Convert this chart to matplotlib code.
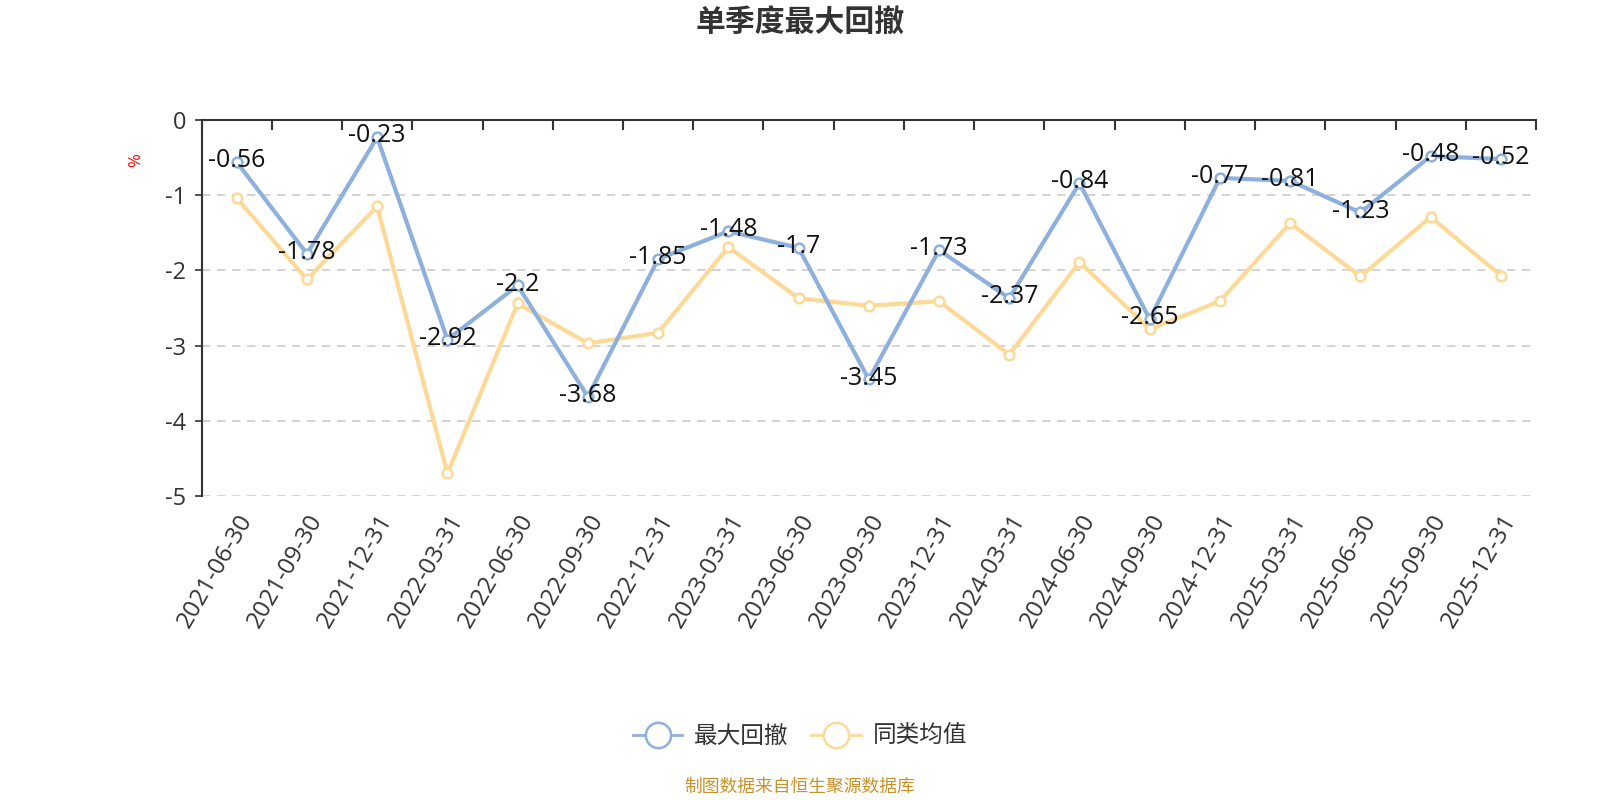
import numpy as np
import matplotlib
matplotlib.use('Agg')
import matplotlib.pyplot as plt

plt.rcParams['font.family'] = ['Open Sans', 'Noto Sans CJK SC', 'DejaVu Sans']
plt.rcParams['axes.unicode_minus'] = False

# quarter ends
dates = ['2021-06-30', '2021-09-30', '2021-12-31', '2022-03-31', '2022-06-30',
         '2022-09-30', '2022-12-31', '2023-03-31', '2023-06-30', '2023-09-30',
         '2023-12-31', '2024-03-31', '2024-06-30', '2024-09-30', '2024-12-31',
         '2025-03-31', '2025-06-30', '2025-09-30', '2025-12-31']
max_dd = [-0.56, -1.78, -0.23, -2.92, -2.2, -3.68, -1.85, -1.48, -1.7, -3.45,
          -1.73, -2.37, -0.84, -2.65, -0.77, -0.81, -1.23, -0.48, -0.52]
peer_avg = [-1.04, -2.12, -1.15, -4.70, -2.44, -2.97, -2.83, -1.69, -2.37, -2.47,
            -2.41, -3.12, -1.89, -2.78, -2.41, -1.37, -2.08, -1.29, -2.07]

blue = '#8eb0dc'
yellow = '#fdd998'
cjk = ['Noto Sans CJK SC', 'DejaVu Sans']

fig = plt.figure(figsize=(16, 8), dpi=100)
ax = fig.add_axes([0.126, 0.38, 0.834, 0.47])

x = np.arange(len(dates))
ax.plot(x, max_dd, color=blue, lw=3, marker='o', ms=7, mfc='white',
        mec=blue, mew=1.8, label='最大回撤', zorder=4)
ax.plot(x, peer_avg, color=yellow, lw=3, marker='o', ms=7, mfc='white',
        mec=yellow, mew=1.8, label='同类均值', zorder=3)

for xi, v in zip(x, max_dd):
    ax.annotate(f'{v:g}', (xi, v), xytext=(0, 1), textcoords='offset points',
                ha='center', va='center', fontsize=18, color='#111111', zorder=5)

ax.set_xlim(-0.5, len(dates) - 0.5)
ax.set_ylim(-5, 0)
ax.set_yticks([0, -1, -2, -3, -4, -5])
ax.set_yticklabels(['0', '-1', '-2', '-3', '-4', '-5'], fontsize=17, color='#333333')
ax.yaxis.grid(True, ls=(0, (5, 4)), color='#cccccc', lw=1.2)
ax.set_axisbelow(True)

ax.set_xticks(x)
ax.set_xticklabels(dates, rotation=60, ha='right', rotation_mode='anchor',
                   fontsize=17.5, color='#333333')
ax.set_xticks(np.arange(-0.5, len(dates)), minor=True)
ax.tick_params(axis='x', which='major', length=0, pad=10)
ax.tick_params(axis='x', which='minor', bottom=False, top=True, direction='in',
               length=7, width=1.5, color='#333333')
ax.tick_params(axis='y', length=5, width=1.2, color='#333333', pad=6)

for s in ['right', 'bottom']:
    ax.spines[s].set_visible(False)
ax.spines['top'].set_color('#333333')
ax.spines['top'].set_linewidth(1.5)
ax.spines['left'].set_color('#333333')
ax.spines['left'].set_linewidth(1.5)

fig.text(0.085, 0.80, '%', color='red', fontsize=12, rotation=90, ha='center', va='center')

fig.text(0.5, 0.972, '单季度最大回撤', ha='center', va='center', fontsize=21.5,
         fontweight='bold', color='#333333', family=cjk)

leg = fig.legend(loc='center', bbox_to_anchor=(0.5, 0.079), ncol=2, frameon=False,
                 prop={'family': cjk, 'size': 17}, handlelength=2.1,
                 columnspacing=0.95, markerscale=2.6, handletextpad=0.5)
for t in leg.get_texts():
    t.set_color('#333333')
for h in leg.legend_handles:
    h.set_linewidth(2)

fig.text(0.5, 0.016, '制图数据来自恒生聚源数据库', ha='center', va='center',
         fontsize=12.8, color='#c8922a', family=cjk)

fig.savefig('out.png', dpi=100, facecolor='white')
